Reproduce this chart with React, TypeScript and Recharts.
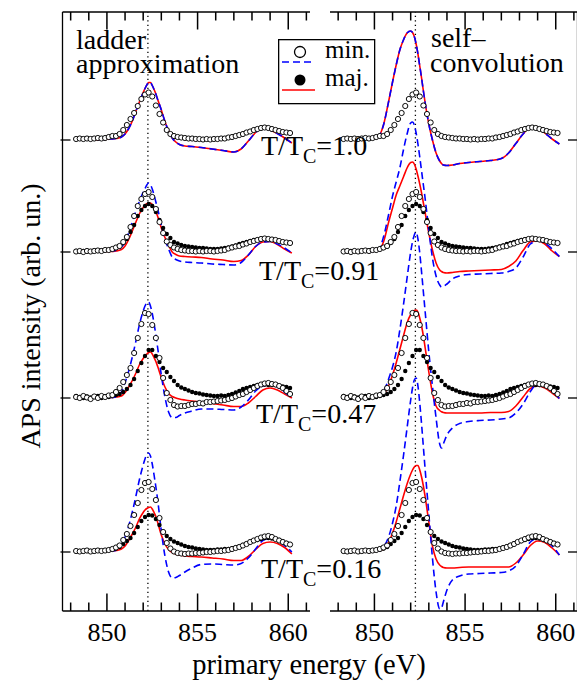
import React from 'react';
import { ComposedChart, Line, XAxis, YAxis, ReferenceLine, Legend } from 'recharts';

const FONT = '"Liberation Serif", "Times New Roman", serif';

// ---------- axes ----------
const X_DOMAIN: [number, number] = [847.55, 861.2];
const Y_DOMAIN: [number, number] = [0, 59.9];
const X_TICKS = [848, 849, 850, 851, 852, 853, 854, 855, 856, 857, 858, 859, 860, 861];
const X_MAJOR = [850, 855, 860];
const PEAK_E = 852.26;

// ---------- temperatures / vertical offsets ----------
const temperatures = ['1.0', '0.91', '0.47', '0.16'];
const offsets = [47.1, 35.9, 21.3, 5.9];

// ---------- experimental data (same in both panels) ----------
const expEnergy = [848.3, 848.5, 848.7, 848.9, 849.1, 849.3, 849.5, 849.7, 849.9, 850.1, 850.3, 850.5, 850.7, 850.9, 851.1, 851.3, 851.5, 851.7, 851.9, 852.1, 852.3, 852.5, 852.7, 852.9, 853.1, 853.3, 853.5, 853.7, 853.9, 854.1, 854.3, 854.5, 854.7, 854.9, 855.1, 855.3, 855.5, 855.7, 855.9, 856.1, 856.3, 856.5, 856.7, 856.9, 857.1, 857.3, 857.5, 857.7, 857.9, 858.1, 858.3, 858.5, 858.7, 858.9, 859.1, 859.3, 859.5, 859.7, 859.9, 860.1];

const exp100 = [0.1, 0.15, 0.1, 0.15, 0.1, 0.15, 0.2, 0.15, 0.2, 0.3, 0.4, 0.4, 0.6, 1.0, 1.5, 2.1, 2.7, 3.4, 4.1, 4.55, 4.75, 4.35, 3.45, 2.6, 1.75, 1.0, 0.6, 0.4, 0.3, 0.25, 0.2, 0.15, 0.15, 0.1, 0.1, 0.05, 0.1, 0.05, 0.1, 0.1, 0.15, 0.15, 0.25, 0.3, 0.4, 0.5, 0.6, 0.75, 0.85, 1.0, 1.1, 1.2, 1.25, 1.2, 1.1, 1.0, 0.9, 0.8, 0.75, 0.7];
const exp091min = [0.05, 0.1, 0.0, 0.1, 0.05, 0.1, 0.15, 0.1, 0.2, 0.2, 0.3, 0.45, 0.6, 1.0, 1.5, 2.5, 3.6, 4.6, 5.3, 5.8, 6.0, 5.5, 4.3, 3.0, 1.9, 1.05, 0.7, 0.45, 0.3, 0.2, 0.15, 0.1, 0.1, 0.05, 0.1, 0.05, 0.1, 0.1, 0.05, 0.1, 0.15, 0.2, 0.35, 0.45, 0.55, 0.6, 0.75, 0.85, 1.0, 1.1, 1.2, 1.3, 1.35, 1.3, 1.25, 1.2, 1.1, 1.0, 0.95, 0.9];
const exp091maj = [0.1, 0.05, 0.1, 0.1, 0.05, 0.15, 0.1, 0.15, 0.2, 0.2, 0.3, 0.4, 0.55, 0.9, 1.3, 2.0, 2.7, 3.6, 4.2, 4.6, 4.8, 4.6, 4.0, 3.2, 2.4, 1.8, 1.4, 1.0, 0.85, 0.7, 0.6, 0.55, 0.5, 0.45, 0.4, 0.4, 0.35, 0.3, 0.3, 0.3, 0.35, 0.4, 0.45, 0.55, 0.65, 0.8, 0.9, 1.0, 1.1, 1.2, 1.25, 1.3, 1.3, 1.3, 1.25, 1.2, 1.1, 1.0, 0.95, 0.9];
const exp047min = [0.1, 0.0, 0.2, 0.05, -0.1, 0.15, 0.0, 0.2, 0.1, 0.25, 0.3, 0.6, 1.0, 1.6, 2.3, 3.0, 4.5, 6.0, 7.4, 8.5, 8.4, 7.3, 6.0, 4.0, 2.0, 0.5, -0.2, -0.7, -0.85, -0.8, -0.8, -0.7, -0.6, -0.6, -0.5, -0.55, -0.4, -0.4, -0.35, -0.3, -0.25, -0.2, -0.1, 0.0, 0.15, 0.3, 0.4, 0.6, 0.8, 1.0, 1.2, 1.35, 1.45, 1.5, 1.4, 1.35, 1.2, 1.0, 0.7, 0.4];
const exp047maj = [0.2, 0.1, 0.0, 0.15, 0.05, 0.1, 0.2, 0.0, 0.15, 0.1, 0.2, 0.3, 0.4, 0.6, 0.9, 1.3, 1.9, 2.7, 3.5, 4.2, 4.8, 4.8, 4.2, 3.6, 3.0, 2.6, 2.1, 1.7, 1.3, 1.05, 0.9, 0.75, 0.6, 0.5, 0.45, 0.35, 0.3, 0.25, 0.2, 0.2, 0.25, 0.2, 0.3, 0.4, 0.55, 0.7, 0.9, 1.0, 1.1, 1.2, 1.3, 1.3, 1.35, 1.3, 1.3, 1.3, 1.2, 1.15, 1.1, 1.0];
const exp016min = [0.1, 0.05, 0.1, 0.15, 0.05, 0.1, 0.15, 0.1, 0.15, 0.2, 0.3, 0.45, 0.65, 1.2, 1.8, 2.6, 3.7, 4.9, 6.2, 6.9, 7.0, 6.3, 5.2, 3.4, 2.0, 0.9, 0.35, 0.05, -0.1, -0.15, -0.2, -0.15, -0.15, -0.1, -0.1, -0.05, 0.0, 0.0, 0.05, 0.1, 0.1, 0.15, 0.2, 0.3, 0.4, 0.5, 0.65, 0.8, 1.0, 1.15, 1.3, 1.45, 1.55, 1.6, 1.5, 1.3, 1.15, 1.0, 0.85, 0.75];
const exp016maj = [0.05, 0.1, 0.05, 0.1, 0.1, 0.05, 0.15, 0.1, 0.15, 0.2, 0.25, 0.35, 0.5, 0.8, 1.1, 1.4, 1.9, 2.5, 3.1, 3.5, 3.7, 3.65, 3.3, 2.7, 2.0, 1.6, 1.3, 1.05, 0.9, 0.75, 0.6, 0.5, 0.45, 0.35, 0.3, 0.25, 0.2, 0.2, 0.2, 0.25, 0.25, 0.3, 0.3, 0.35, 0.45, 0.55, 0.7, 0.85, 1.0, 1.1, 1.2, 1.3, 1.4, 1.4, 1.35, 1.3, 1.2, 1.05, 0.9, 0.75];

// ---------- theory: ladder approximation (left panel) ----------
const ladderEnergy = [848.3, 848.8, 849.3, 849.8, 850.2, 850.5, 850.8, 851.0, 851.2, 851.4, 851.6, 851.8, 852.0, 852.1, 852.2, 852.3, 852.4, 852.5, 852.6, 852.7, 852.8, 853.0, 853.2, 853.4, 853.6, 853.8, 854.0, 854.3, 854.7, 855.2, 855.8, 856.4, 857.0, 857.4, 857.8, 858.2, 858.6, 859.0, 859.4, 859.8, 860.2];
const ladder100 = [0, 0, 0, 0.05, 0.1, 0.15, 0.3, 0.6, 1.15, 1.9, 2.9, 3.85, 4.75, 5.15, 5.5, 5.75, 5.75, 5.45, 5.05, 4.6, 4.05, 3.0, 1.85, 0.9, 0.2, -0.2, -0.45, -0.6, -0.65, -0.75, -0.9, -1.05, -1.2, -0.9, -0.1, 0.75, 1.2, 1.0, 0.65, 0.2, -0.3];
const ladder091min = [0, 0, 0, 0.05, 0.1, 0.15, 0.5, 1.0, 1.9, 3.0, 4.1, 5.1, 6.0, 6.35, 6.7, 6.9, 6.75, 6.3, 5.7, 5.0, 4.3, 2.7, 1.3, 0.3, -0.5, -0.75, -0.9, -1.0, -1.05, -1.1, -1.2, -1.25, -1.3, -1.05, -0.3, 0.55, 1.0, 1.05, 0.8, 0.4, -0.1];
const ladder091maj = [0, 0, 0, 0.05, 0.05, 0.1, 0.25, 0.6, 1.25, 2.1, 3.0, 3.85, 4.45, 4.7, 4.82, 4.9, 4.9, 4.75, 4.45, 4.05, 3.55, 2.4, 1.45, 0.65, 0.0, -0.25, -0.4, -0.45, -0.5, -0.55, -0.7, -0.8, -0.95, -0.85, -0.3, 0.55, 1.0, 1.05, 0.75, 0.3, -0.1];
const ladder047min = [0, 0, 0, 0.05, 0.05, 0.1, 0.6, 1.55, 2.7, 4.1, 5.7, 7.4, 8.7, 9.2, 9.5, 9.6, 9.2, 8.45, 7.45, 6.3, 5.0, 2.3, 0.1, -1.4, -1.95, -1.95, -1.75, -1.5, -1.3, -1.1, -1.1, -1.15, -1.2, -0.9, -0.2, 0.7, 1.2, 1.3, 1.1, 0.6, 0.0];
const ladder047maj = [0, 0, 0, 0.05, 0.05, 0.1, 0.2, 0.55, 1.1, 1.75, 2.5, 3.35, 3.95, 4.2, 4.4, 4.55, 4.6, 4.4, 4.05, 3.65, 3.15, 2.05, 1.1, 0.45, 0.15, 0.0, -0.1, -0.2, -0.3, -0.4, -0.55, -0.7, -0.85, -0.85, -0.5, 0.15, 0.8, 1.0, 0.8, 0.4, 0.0];
const ladder016min = [0, 0, 0, 0.05, 0.1, 0.15, 0.7, 1.5, 2.6, 4.0, 5.6, 7.3, 8.7, 9.3, 9.75, 9.9, 9.6, 8.8, 7.7, 6.5, 5.2, 2.1, -0.4, -2.0, -2.6, -2.55, -2.35, -2.0, -1.6, -1.25, -1.2, -1.25, -1.3, -1.15, -0.6, 0.3, 1.15, 1.35, 1.15, 0.65, 0.0];
const ladder016maj = [0, 0, 0, 0.05, 0.1, 0.15, 0.3, 0.6, 1.15, 1.8, 2.5, 3.35, 3.95, 4.2, 4.35, 4.45, 4.5, 4.3, 3.95, 3.55, 2.95, 1.7, 0.8, 0.25, -0.05, -0.2, -0.3, -0.4, -0.45, -0.5, -0.6, -0.7, -0.85, -0.85, -0.45, 0.25, 0.85, 1.0, 0.85, 0.45, -0.2];

// ---------- theory: self-convolution (right panel) ----------
const selfEnergy = [848.3, 848.8, 849.3, 849.8, 850.2, 850.5, 850.8, 851.0, 851.2, 851.4, 851.6, 851.8, 852.0, 852.1, 852.2, 852.3, 852.4, 852.5, 852.6, 852.7, 852.8, 853.0, 853.2, 853.4, 853.6, 853.7, 853.8, 854.0, 854.3, 854.7, 855.2, 855.8, 856.4, 857.0, 857.4, 857.8, 858.2, 858.6, 859.0, 859.4, 859.8, 860.2];
const self100 = [0.1, 0.1, 0.1, 0.15, 0.3, 1.5, 4.0, 5.8, 7.5, 9.0, 10.0, 10.7, 10.9, 10.75, 10.35, 9.6, 8.6, 7.4, 6.2, 4.9, 3.7, 1.6, 0.0, -1.3, -2.1, -2.35, -2.5, -2.55, -2.5, -2.35, -2.25, -2.15, -2.05, -1.85, -1.3, -0.35, 0.6, 1.25, 1.25, 0.7, 0.1, -0.4];
const self091min = [0.05, 0.05, 0.05, 0.05, 0.15, 1.5, 3.9, 5.6, 7.0, 8.4, 10.2, 11.8, 12.9, 13.0, 12.7, 11.9, 10.8, 9.5, 8.1, 6.7, 5.3, 2.2, -0.6, -2.4, -3.3, -3.5, -3.45, -3.2, -2.7, -2.4, -2.25, -2.2, -2.15, -2.1, -1.95, -1.6, -0.5, 0.8, 1.1, 0.9, 0.3, -0.45];
const self091maj = [0.05, 0.05, 0.05, 0.05, 0.15, 1.0, 3.1, 4.4, 5.7, 6.6, 7.5, 8.4, 8.95, 9.0, 8.8, 8.3, 7.6, 6.8, 5.9, 4.9, 3.9, 1.9, 0.2, -1.1, -1.8, -1.95, -2.05, -2.1, -2.05, -1.95, -1.9, -1.85, -1.8, -1.75, -1.45, -0.9, 0.15, 1.0, 1.1, 0.8, 0.1, -0.45];
const self047min = [0, 0, 0.05, 0.05, 0.1, 0.6, 2.0, 3.1, 4.6, 6.8, 9.3, 12.0, 14.6, 15.6, 16.3, 16.6, 15.9, 14.5, 12.6, 10.6, 8.6, 4.6, 1.2, -2.0, -4.6, -5.0, -4.6, -3.7, -3.0, -2.55, -2.35, -2.25, -2.2, -2.1, -2.0, -1.5, -0.6, 0.65, 1.4, 1.3, 0.7, -0.05];
const self047maj = [0, 0, 0.05, 0.05, 0.1, 0.35, 1.3, 2.3, 3.5, 4.85, 6.2, 7.5, 8.35, 8.6, 8.75, 8.8, 8.6, 8.0, 7.2, 6.2, 5.0, 2.6, 0.5, -0.8, -1.25, -1.38, -1.45, -1.5, -1.5, -1.5, -1.5, -1.5, -1.45, -1.45, -1.35, -0.8, 0.1, 0.95, 1.2, 1.0, 0.5, -0.05];
const self016min = [0, 0, 0, 0.05, 0.1, 0.5, 1.6, 2.9, 4.6, 7.0, 9.6, 12.4, 15.2, 16.4, 17.2, 17.4, 16.6, 14.9, 12.8, 10.5, 8.2, 3.8, -0.6, -4.0, -5.7, -5.6, -5.0, -3.8, -2.8, -2.4, -2.2, -2.15, -2.1, -2.05, -1.9, -1.4, -0.25, 1.0, 1.35, 1.15, 0.6, -0.3];
const self016maj = [0, 0, 0, 0.05, 0.1, 0.3, 1.0, 1.9, 3.0, 4.3, 5.6, 6.8, 7.8, 8.2, 8.5, 8.65, 8.65, 8.2, 7.5, 6.6, 5.5, 3.0, 0.6, -0.7, -1.3, -1.45, -1.55, -1.6, -1.6, -1.55, -1.5, -1.5, -1.5, -1.5, -1.5, -1.1, -0.3, 0.65, 1.1, 0.95, 0.4, -0.3];

const expMin = [exp100, exp091min, exp047min, exp016min];
const expMaj = [exp100, exp091maj, exp047maj, exp016maj];
const ladderMin = [ladder100, ladder091min, ladder047min, ladder016min];
const ladderMaj = [ladder100, ladder091maj, ladder047maj, ladder016maj];
const selfMin = [self100, self091min, self047min, self016min];
const selfMaj = [self100, self091maj, self047maj, self016maj];

const build = (xs: number[], ys: number[], off: number) => xs.map((x, i) => ({ x, y: ys[i] + off }));
// tick-mark anchor points on the bottom and top frame lines
const bottomTickPts = X_TICKS.map((x) => ({ x, y: Y_DOMAIN[0], major: X_MAJOR.includes(x) }));
const topTickPts = X_TICKS.map((x) => ({ x, y: Y_DOMAIN[1], major: X_MAJOR.includes(x) }));

// ---------- styles ----------
const BLUE = '#0000ff';
const RED = '#ff0000';
const AX = { stroke: '#000', strokeWidth: 1.3 };
const MAJ_LEN = 17.5;
const MIN_LEN = 8.5;
const TW = 1.5;

const BottomLabel = (p: any) => {
  const v = p.payload.value;
  if (!X_MAJOR.includes(v)) return <g />;
  return (
    <text x={p.x} y={p.y + 30} textAnchor="middle" fontSize={26} fontFamily={FONT} fill="#000" stroke="none">{v}</text>
  );
};
const NoTick = () => <g />;
const LeftTick = (p: any) => <rect x={p.x - 2} y={p.y - 0.65} width={10} height={1.3} fill="#000" stroke="none" />;
const RightTick = (p: any) => <rect x={p.x - 9.5} y={p.y - 0.65} width={9.5} height={1.3} fill="#000" stroke="none" />;

const bottomTickDot = (p: any) => {
  const len = p.payload.major ? MAJ_LEN : MIN_LEN;
  return <rect key={`bt${p.index}`} x={p.cx - TW / 2} y={p.cy - len} width={TW} height={len} fill="#000" />;
};
const topTickDot = (p: any) => {
  const len = p.payload.major ? MAJ_LEN : MIN_LEN;
  return <rect key={`tt${p.index}`} x={p.cx - TW / 2} y={p.cy} width={TW} height={len} fill="#000" />;
};

const openDot = (p: any) => (
  <circle key={`o${p.index}`} cx={p.cx} cy={p.cy} r={2.6} fill="#fff" stroke="#000" strokeWidth={0.95} />
);
const fullDot = (p: any) => <circle key={`f${p.index}`} cx={p.cx} cy={p.cy} r={2.2} fill="#000" />;

// legend svg is drawn with a 6px pad; the box itself is at page (278,39)-(375,103)
const LegendBox = () => (
  <svg width={110} height={78} style={{ display: 'block' }} fontFamily={FONT}>
    <rect x={6.65} y={6.65} width={96} height={64} fill="#fff" stroke="#000" strokeWidth={1.3} />
    <circle cx={28} cy={19} r={5.5} fill="#fff" stroke="#000" strokeWidth={1.3} />
    <line x1={10} x2={43} y1={29} y2={29} stroke={BLUE} strokeWidth={1.6} strokeDasharray="7 4" />
    <text x={53} y={25} fontSize={25} fill="#000">min.</text>
    <circle cx={28} cy={47} r={5.5} fill="#000" />
    <line x1={10} x2={43} y1={57} y2={57} stroke={RED} strokeWidth={1.6} />
    <text x={53} y={52.5} fontSize={25} fill="#000">maj.</text>
  </svg>
);

const Panel = ({ side, minTh, majTh, thEnergy }: { side: 'left' | 'right'; minTh: number[][]; majTh: number[][]; thEnergy: number[] }) => {
  const left = side === 'left';
  // plot area: x 62.5..310 (left) / 330..577.5 (right), y 12..611 ; axes take 1px each
  const margin = left
    ? { top: 11, right: 577 - 310, bottom: 682 - 611 - 1, left: 61.5 }
    : { top: 11, right: 0, bottom: 682 - 611 - 1, left: 330 };
  const width = left ? 577 : 578.5;
  return (
    <div style={{ position: 'absolute', left: 0, top: 0 }}>
      <ComposedChart width={width} height={682} margin={margin}>
        <XAxis xAxisId="b" dataKey="x" type="number" domain={X_DOMAIN} allowDataOverflow ticks={X_TICKS} interval={0}
          height={1} tickSize={0} tickMargin={0} tickLine={false} tick={BottomLabel} axisLine={AX} />
        <XAxis xAxisId="t" orientation="top" dataKey="x" type="number" domain={X_DOMAIN} allowDataOverflow ticks={X_TICKS}
          interval={0} height={1} tickSize={0} tickMargin={0} tickLine={false} tick={NoTick} axisLine={AX} />
        <YAxis type="number" dataKey="y" domain={Y_DOMAIN} allowDataOverflow ticks={offsets} interval={0}
          orientation={left ? 'left' : 'right'} width={1} tickSize={0} tickMargin={0} tickLine={false}
          tick={left ? LeftTick : RightTick} axisLine={AX} />
        <ReferenceLine xAxisId="b" x={PEAK_E} stroke="#000" strokeWidth={1.3} strokeDasharray="1.3 3.2" />
        <Line xAxisId="b" data={bottomTickPts} dataKey="y" stroke="none" dot={bottomTickDot} activeDot={false}
          isAnimationActive={false} legendType="none" />
        <Line xAxisId="b" data={topTickPts} dataKey="y" stroke="none" dot={topTickDot} activeDot={false}
          isAnimationActive={false} legendType="none" />
        {offsets.map((off, i) => (
          <Line key={`em${i}`} xAxisId="b" data={build(expEnergy, expMaj[i], off)} dataKey="y" stroke="none"
            dot={fullDot} activeDot={false} isAnimationActive={false} legendType="none" />
        ))}
        {offsets.map((off, i) => (
          <Line key={`en${i}`} xAxisId="b" data={build(expEnergy, expMin[i], off)} dataKey="y" stroke="none"
            dot={openDot} activeDot={false} isAnimationActive={false} legendType="none" />
        ))}
        {offsets.map((off, i) => (
          <Line key={`tr${i}`} xAxisId="b" data={build(thEnergy, majTh[i], off)} dataKey="y" type="monotone"
            stroke={RED} strokeWidth={1.6} dot={false} activeDot={false} isAnimationActive={false} legendType="none" />
        ))}
        {offsets.map((off, i) => (
          <Line key={`tb${i}`} xAxisId="b" data={build(thEnergy, minTh[i], off)} dataKey="y" type="monotone"
            stroke={BLUE} strokeWidth={1.6} strokeDasharray="7 4" dot={false} activeDot={false}
            isAnimationActive={false} legendType="none" />
        ))}
        {left && (
          <Legend layout="vertical" align="center" verticalAlign="middle" content={LegendBox}
            wrapperStyle={{ position: 'absolute', left: 272, top: 33, width: 110, height: 78 }} />
        )}
      </ComposedChart>
    </div>
  );
};

const labelPos = [
  { x: 261, y: 155 },
  { x: 259, y: 280 },
  { x: 256, y: 423 },
  { x: 261, y: 578 },
];

export default function App() {
  return (
    <div style={{ position: 'absolute', left: 0, top: 0, width: 577, height: 682, overflow: 'hidden', background: '#fff', fontFamily: FONT }}>
      <Panel side="left" minTh={ladderMin} majTh={ladderMaj} thEnergy={ladderEnergy} />
      <Panel side="right" minTh={selfMin} majTh={selfMaj} thEnergy={selfEnergy} />
      <svg width={577} height={682} style={{ position: 'absolute', left: 0, top: 0, pointerEvents: 'none' }} fontFamily={FONT}>
        <text x={76} y={48.5} fontSize={28} fill="#000">ladder</text>
        <text x={76} y={73} fontSize={28} fill="#000">approximation</text>
        <text x={431} y={47} fontSize={28} fill="#000">self–</text>
        <text x={430} y={72} fontSize={28} fill="#000">convolution</text>
        {temperatures.map((t, i) => (
          <text key={t} x={labelPos[i].x} y={labelPos[i].y} fontSize={28} fill="#000">
            T/T<tspan dy={8} fontSize={20}>C</tspan><tspan dy={-8}>={t}</tspan>
          </text>
        ))}
        <text x={309} y={674} textAnchor="middle" fontSize={28.5} fill="#000">primary energy (eV)</text>
        <text transform="rotate(-90 40 316)" x={40} y={316} textAnchor="middle" fontSize={28} fill="#000">APS intensity (arb. un.)</text>
      </svg>
    </div>
  );
}
